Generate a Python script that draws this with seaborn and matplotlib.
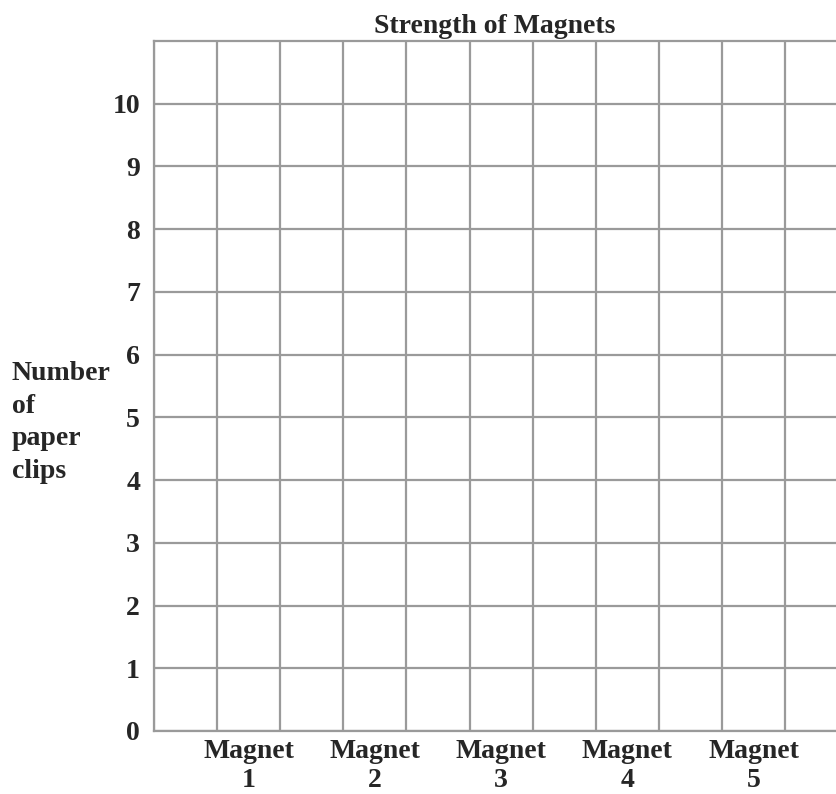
import matplotlib
matplotlib.use("Agg")
import matplotlib.pyplot as plt
import seaborn as sns
import pandas as pd

# Data (empty template chart: no values recorded yet)
magnets = ["Magnet\n1", "Magnet\n2", "Magnet\n3", "Magnet\n4", "Magnet\n5"]
magnet_positions = [1.5, 3.5, 5.5, 7.5, 9.5]
clip_ticks = [0, 1, 2, 3, 4, 5, 6, 7, 8, 9, 10]
clips = []  # no paper-clip counts filled in

sns.set_theme(style="white")
plt.rcParams['font.family'] = ['Liberation Serif', 'DejaVu Serif']
plt.rcParams['font.weight'] = 'bold'

W, H = 836, 794
fig = plt.figure(figsize=(W / 100, H / 100), dpi=100)
left, right, top, bottom = 154, 836, 41, 731
col = 63.1
ax = fig.add_axes([left / W, (H - bottom) / H, (right - left) / W, (bottom - top) / H])

df = pd.DataFrame({"x": pd.Series(clips, dtype=float), "y": pd.Series(clips, dtype=float)})
sns.scatterplot(data=df, x="x", y="y", ax=ax)

ax.set_xlim(0, (right - left) / col)
ax.set_ylim(0, 11)

fs = 20
grid_color = "#9a9a9a"
lw = 1.6
ax.set_xticks(magnet_positions)
ax.set_xticklabels(magnets, fontsize=fs, fontweight='bold', linespacing=1.2)
ax.set_xticks(list(range(0, 11)), minor=True)
ax.set_yticks(clip_ticks)
ax.set_yticklabels([str(v) for v in clip_ticks], fontsize=fs, fontweight='bold')
ax.tick_params(axis='both', which='both', length=0)
ax.tick_params(axis='y', pad=10)
ax.tick_params(axis='x', pad=6)

ax.grid(False)
ax.xaxis.grid(True, which='minor', color=grid_color, linewidth=lw)
ax.yaxis.grid(True, which='major', color=grid_color, linewidth=lw)
ax.set_axisbelow(True)

for s in ['left', 'bottom', 'top']:
    ax.spines[s].set_visible(True)
    ax.spines[s].set_color(grid_color)
    ax.spines[s].set_linewidth(lw)
ax.spines['right'].set_visible(False)

ax.set_xlabel("")
ax.set_ylabel("")
ax.set_title("Strength of Magnets", fontsize=fs, fontweight='bold', pad=6)

fig.text(12 / W, 1 - 361 / H, "Number\nof\npaper\nclips", ha='left', va='top',
         fontsize=fs, fontweight='bold', linespacing=1.4)

fig.savefig("out.png", dpi=100)
